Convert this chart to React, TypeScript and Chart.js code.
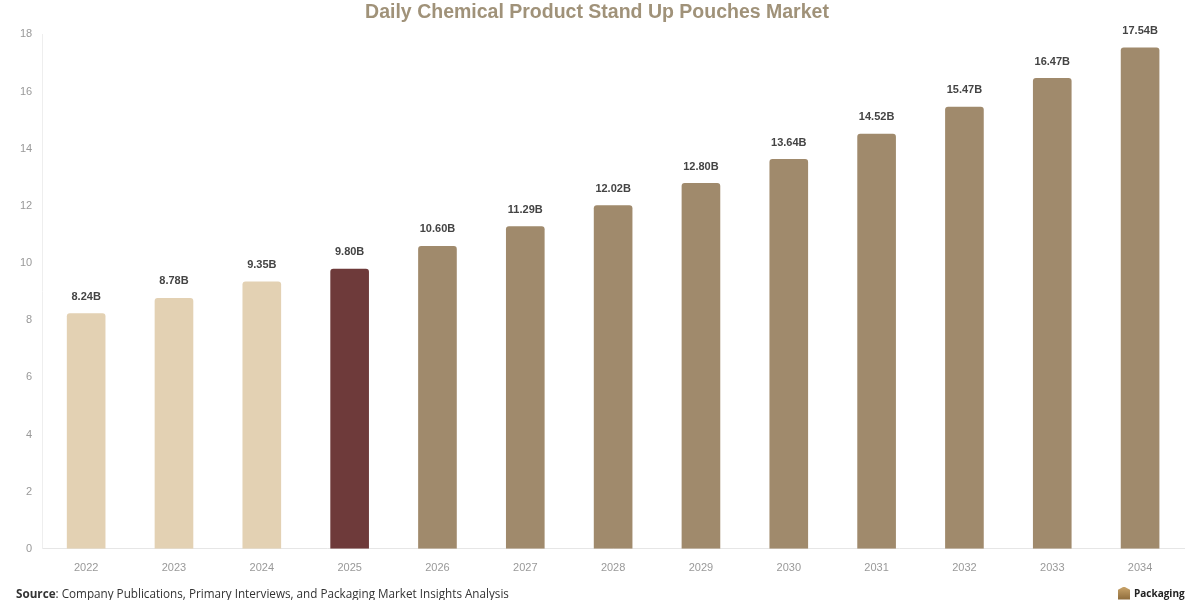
import { useEffect, useRef } from 'react';
import { Chart, registerables } from 'chart.js';

Chart.register(...registerables);

const years = ['2022', '2023', '2024', '2025', '2026', '2027', '2028', '2029', '2030', '2031', '2032', '2033', '2034'];
const marketSize = [8.24, 8.78, 9.35, 9.8, 10.6, 11.29, 12.02, 12.8, 13.64, 14.52, 15.47, 16.47, 17.54];
const barColors = [
    '#E3D1B3', '#E3D1B3', '#E3D1B3', '#6E3A3A', '#A08A6C', '#A08A6C', '#A08A6C',
    '#A08A6C', '#A08A6C', '#A08A6C', '#A08A6C', '#A08A6C', '#A08A6C',
];
const yTicks = [0, 2, 4, 6, 8, 10, 12, 14, 16, 18];

const FONT = '"Liberation Sans", Arial, sans-serif';

const valueLabels = {
    id: 'valueLabels',
    afterDatasetsDraw(chart: Chart) {
        const { ctx } = chart;
        const meta = chart.getDatasetMeta(0);
        ctx.save();
        ctx.font = `bold 11px ${FONT}`;
        ctx.fillStyle = '#444';
        ctx.textAlign = 'center';
        ctx.textBaseline = 'bottom';
        meta.data.forEach((bar: any, i: number) => {
            ctx.fillText(marketSize[i].toFixed(2) + 'B', bar.x, bar.y - 11);
        });
        ctx.restore();
    },
};

export default function App() {
    const canvasRef = useRef<HTMLCanvasElement | null>(null);
    const chartRef = useRef<Chart | null>(null);

    useEffect(() => {
        document.body.style.margin = '0';
        if (!canvasRef.current) return;
        chartRef.current?.destroy();
        chartRef.current = new Chart(canvasRef.current, {
            type: 'bar',
            data: {
                labels: years,
                datasets: [
                    {
                        label: 'Market',
                        data: marketSize,
                        backgroundColor: barColors,
                        borderRadius: { topLeft: 3, topRight: 3 },
                        borderSkipped: 'bottom',
                        categoryPercentage: 1,
                        barPercentage: 0.44,
                    },
                ],
            },
            options: {
                responsive: false,
                animation: false,
                layout: { padding: { top: 0, left: 10, right: 16, bottom: 12 } },
                plugins: {
                    legend: { display: false },
                    tooltip: { enabled: false },
                    title: {
                        display: true,
                        text: 'Daily Chemical Product Stand Up Pouches Market',
                        color: '#A09279',
                        font: { family: FONT, size: 19.5, weight: 'bold' },
                        padding: { top: 1, bottom: 10 },
                    },
                },
                scales: {
                    x: {
                        grid: { display: false, drawTicks: false },
                        border: { color: '#E6E6E6' },
                        ticks: { color: '#999', font: { family: FONT, size: 11 }, padding: 13 },
                    },
                    y: {
                        min: 0,
                        max: 18,
                        afterBuildTicks: (axis: any) => {
                            axis.ticks = yTicks.map(v => ({ value: v }));
                        },
                        grid: { display: false, drawTicks: false },
                        border: { color: '#EEEEEE' },
                        ticks: { color: '#999', font: { family: FONT, size: 11 }, padding: 10 },
                    },
                },
            },
            plugins: [valueLabels],
        });
        return () => chartRef.current?.destroy();
    }, []);

    return (
        <div style={{ position: 'relative', width: 1200, height: 600, background: '#fff', overflow: 'hidden' }}>
            <canvas ref={canvasRef} width={1200} height={600} />
            <div
                style={{
                    position: 'absolute', left: 16, top: 585, fontFamily: '"Open Sans", sans-serif',
                    fontSize: 11.7, color: '#333', whiteSpace: 'nowrap',
                }}
            >
                <b>Source</b>: Company Publications, Primary Interviews, and Packaging Market Insights Analysis
            </div>
            <div
                style={{
                    position: 'absolute', left: 1118, top: 586, display: 'flex', alignItems: 'center',
                    fontFamily: '"Open Sans", sans-serif', fontSize: 10, fontWeight: 'bold', color: '#222',
                }}
            >
                <span
                    style={{
                        display: 'inline-block', width: 12, height: 13, marginRight: 4,
                        background: 'linear-gradient(180deg, #C9A46A, #8C6A3A)',
                        clipPath: 'polygon(50% 0, 100% 25%, 100% 100%, 0 100%, 0 25%)',
                    }}
                />
                Packaging
            </div>
        </div>
    );
}
